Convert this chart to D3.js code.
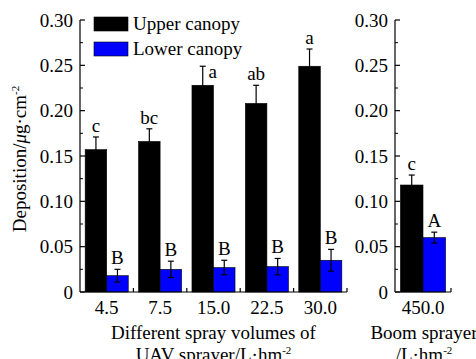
<!DOCTYPE html>
<html>
<head>
<meta charset="utf-8">
<script src="https://cdn.jsdelivr.net/npm/d3@7"></script>
<style>
  body { margin: 0; background: #fff; }
  svg { display: block; }
  text { font-family: "Liberation Serif", "Times New Roman", serif; fill: #000; }
</style>
</head>
<body>
<div id="chart"></div>
<script>
// values
var uavVolumes = ["4.5", "7.5", "15.0", "22.5", "30.0"];
var uavUpper = [0.157, 0.166, 0.228, 0.208, 0.249];
var uavUpperErr = [0.014, 0.014, 0.021, 0.020, 0.019];
var uavLower = [0.018, 0.025, 0.027, 0.028, 0.035];
var uavLowerErr = [0.007, 0.009, 0.008, 0.009, 0.012];
var uavUpperSig = ["c", "bc", "a", "ab", "a"];
var uavLowerSig = ["B", "B", "B", "B", "B"];

var boomVolumes = ["450.0"];
var boomUpper = [0.118];
var boomUpperErr = [0.011];
var boomLower = [0.060];
var boomLowerErr = [0.006];
var boomUpperSig = ["c"];
var boomLowerSig = ["A"];

var yTicks = [0, 0.05, 0.10, 0.15, 0.20, 0.25, 0.30];
var seriesNames = ["Upper canopy", "Lower canopy"];
var seriesColors = ["#000000", "#0000ff"];

var width = 476, height = 359;
var yTop = 20, yBottom = 292;
var fontSize = 19;

var svg = d3.select("#chart").append("svg")
    .attr("width", width)
    .attr("height", height);

var y = d3.scaleLinear().domain([0, 0.30]).range([yBottom, yTop]);
var fmt = function (d) { return d === 0 ? "0" : d3.format(".2f")(d); };

function makeRows(cats, up, upErr, lo, loErr, upSig, loSig) {
    return cats.map(function (c, i) {
        return {
            cat: c,
            bars: [
                { key: "upper", value: up[i], err: upErr[i], sig: upSig[i] },
                { key: "lower", value: lo[i], err: loErr[i], sig: loSig[i] }
            ]
        };
    });
}

function drawPanel(x0, x1, rows, besideCap) {
    var g = svg.append("g");
    var x = d3.scaleBand().domain(rows.map(d => d.cat)).range([x0, x1]);
    var sub = d3.scaleBand().domain(["upper", "lower"])
        .range([0, x.bandwidth()]).paddingOuter(0.24);

    var groups = g.selectAll(".grp").data(rows).enter().append("g")
        .attr("transform", d => "translate(" + x(d.cat) + ",0)");

    groups.selectAll("rect").data(d => d.bars).enter().append("rect")
        .attr("x", d => sub(d.key))
        .attr("y", d => y(d.value))
        .attr("width", sub.bandwidth())
        .attr("height", d => y(0) - y(d.value))
        .attr("fill", (d, i) => seriesColors[i])
        .attr("stroke", "#000")
        .attr("stroke-width", 0.6);

    // error bars
    var eb = groups.selectAll(".err").data(d => d.bars).enter().append("g")
        .attr("stroke", "#000").attr("stroke-width", 1.2);
    var cx = d => sub(d.key) + sub.bandwidth() / 2;
    eb.append("line")
        .attr("x1", cx).attr("x2", cx)
        .attr("y1", d => y(d.value - d.err)).attr("y2", d => y(d.value + d.err));
    eb.append("line")
        .attr("x1", d => cx(d) - 3).attr("x2", d => cx(d) + 3)
        .attr("y1", d => y(d.value + d.err)).attr("y2", d => y(d.value + d.err));
    eb.append("line")
        .attr("x1", d => cx(d) - 3).attr("x2", d => cx(d) + 3)
        .attr("y1", d => y(d.value - d.err)).attr("y2", d => y(d.value - d.err));

    // significance letters
    groups.each(function (row, gi) {
        var side = besideCap && besideCap[gi];
        d3.select(this).selectAll(".sig").data(row.bars).enter().append("text")
            .attr("x", (d, i) => (side && i === 0) ? cx(d) + 10 : cx(d))
            .attr("y", (d, i) => (side && i === 0) ? y(d.value + d.err) + 12 : y(d.value + d.err) - 5)
            .attr("text-anchor", "middle")
            .style("font-size", fontSize + "px")
            .text(d => d.sig);
    });

    // y axis, ticks inward
    var ya = g.append("g").attr("transform", "translate(" + x0 + ",0)");
    ya.append("line").attr("x1", 0).attr("x2", 0).attr("y1", yTop).attr("y2", yBottom)
        .attr("stroke", "#000").attr("stroke-width", 1.2);
    ya.selectAll(".maj").data(yTicks).enter().append("line")
        .attr("x1", 0).attr("x2", 5).attr("y1", d => y(d)).attr("y2", d => y(d))
        .attr("stroke", "#000").attr("stroke-width", 1.2);
    ya.selectAll(".min").data(d3.range(0.025, 0.3, 0.05)).enter().append("line")
        .attr("x1", 0).attr("x2", 3).attr("y1", d => y(d)).attr("y2", d => y(d))
        .attr("stroke", "#000").attr("stroke-width", 1);
    ya.selectAll("text").data(yTicks).enter().append("text")
        .attr("x", -7).attr("y", d => y(d)).attr("dy", "0.35em")
        .attr("text-anchor", "end")
        .style("font-size", fontSize + "px")
        .text(fmt);

    // x axis
    var xa = g.append("g");
    xa.append("line").attr("x1", x0).attr("x2", x1).attr("y1", yBottom).attr("y2", yBottom)
        .attr("stroke", "#000").attr("stroke-width", 1.2);
    xa.selectAll(".bnd").data(rows).enter().append("line")
        .attr("x1", d => x(d.cat) + x.bandwidth()).attr("x2", d => x(d.cat) + x.bandwidth())
        .attr("y1", yBottom).attr("y2", yBottom - 4)
        .attr("stroke", "#000").attr("stroke-width", 1.2);
    xa.selectAll("text").data(rows).enter().append("text")
        .attr("x", d => x(d.cat) + x.bandwidth() / 2)
        .attr("y", yBottom + 22)
        .attr("text-anchor", "middle")
        .style("font-size", fontSize + "px")
        .text(d => d.cat);

    return x;
}

var uavRows = makeRows(uavVolumes, uavUpper, uavUpperErr, uavLower, uavLowerErr, uavUpperSig, uavLowerSig);
var boomRows = makeRows(boomVolumes, boomUpper, boomUpperErr, boomLower, boomLowerErr, boomUpperSig, boomLowerSig);

// the "a" over 15.0 sits beside its cap because of the legend
drawPanel(80, 347, uavRows, [false, false, true, false, false]);
drawPanel(395, 451, boomRows, null);

// x titles
function subTitle(cx, lines) {
    lines.forEach(function (ln, i) {
        var t = svg.append("text")
            .attr("x", cx).attr("y", 339 + i * 22)
            .attr("text-anchor", "middle")
            .style("font-size", fontSize + "px");
        if (ln.indexOf("hm") >= 0) {
            t.append("tspan").text(ln.replace("-2", ""));
            t.append("tspan").attr("dy", -7).style("font-size", "11px").text("-2");
        } else {
            t.text(ln);
        }
    });
}
subTitle(213.5, ["Different spray volumes of", "UAV sprayer/L\u00b7hm-2"]);
subTitle(424, ["Boom sprayer", "/L\u00b7hm-2"]);

// y title
var yt = svg.append("text")
    .attr("transform", "translate(26,159) rotate(-90)")
    .attr("text-anchor", "middle")
    .style("font-size", fontSize + "px");
yt.append("tspan").text("Deposition/");
yt.append("tspan").style("font-style", "italic").text("\u03bc");
yt.append("tspan").text("g\u00b7cm");
yt.append("tspan").attr("dy", -7).style("font-size", "11px").text("-2");

// legend
var lg = svg.append("g");
seriesNames.forEach(function (name, i) {
    lg.append("rect")
        .attr("x", 94).attr("y", 17 + i * 25)
        .attr("width", 34).attr("height", 14)
        .attr("fill", seriesColors[i]).attr("stroke", "#000").attr("stroke-width", 0.6);
    lg.append("text")
        .attr("x", 133).attr("y", 30 + i * 25)
        .style("font-size", fontSize + "px")
        .text(name);
});
</script>
</body>
</html>
